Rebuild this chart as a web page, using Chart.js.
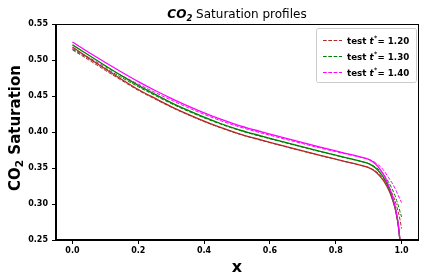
<!DOCTYPE html>
<html><head><meta charset="utf-8">
<script src="https://cdn.jsdelivr.net/npm/chart.js@4"></script>
<style>html,body{margin:0;padding:0;background:#fff}</style>
</head><body>
<canvas id="c" width="424" height="280"></canvas>
<script>
const xs = [0,0.05,0.1,0.15,0.2,0.25,0.3,0.35,0.4,0.45,0.5,0.55,0.6,0.65,0.7,0.75,0.8,0.85,0.88,0.9,0.92,0.94,0.95,0.96,0.97,0.98,0.985,0.99,0.995,1.0];
const solidRed = [0.518,0.5025,0.4875,0.473,0.459,0.447,0.4353,0.4248,0.4151,0.4063,0.3985,0.3918,0.3857,0.3797,0.3738,0.368,0.3623,0.3567,0.3533,0.3505,0.345,0.3355,0.329,0.3205,0.3095,0.2945,0.2838,0.270,0.250,null];
const solidGreen = [0.521,0.5065,0.492,0.478,0.4648,0.4525,0.4408,0.4303,0.4206,0.4118,0.404,0.3973,0.3912,0.3852,0.3793,0.3735,0.3678,0.3622,0.3588,0.356,0.3505,0.3405,0.333,0.3235,0.3115,0.2958,0.285,0.2712,0.250,null];
const solidMagenta = [0.525,0.5105,0.4965,0.483,0.470,0.458,0.4468,0.4363,0.4266,0.4178,0.410,0.4033,0.3972,0.3912,0.3853,0.3795,0.3738,0.3682,0.3648,0.362,0.356,0.345,0.337,0.3265,0.3135,0.297,0.286,0.272,0.250,null];
const dashedRed = [0.514,0.500,0.4855,0.4715,0.4578,0.446,0.4345,0.4241,0.4145,0.4058,0.398,0.3913,0.3852,0.3792,0.3733,0.3676,0.362,0.3566,0.3534,0.3508,0.346,0.338,0.332,0.325,0.316,0.305,0.297,0.289,0.279,0.266];
const dashedGreen = [0.515,0.502,0.4885,0.4755,0.4628,0.451,0.4395,0.4292,0.4197,0.411,0.4033,0.3966,0.3906,0.3847,0.3788,0.3731,0.3675,0.362,0.3588,0.3562,0.3515,0.344,0.338,0.331,0.322,0.312,0.305,0.298,0.290,0.282];
const dashedMagenta = [0.516,0.5035,0.4905,0.4782,0.4665,0.4552,0.4443,0.434,0.4245,0.4158,0.4081,0.4015,0.3955,0.3896,0.3838,0.3781,0.3727,0.3676,0.3646,0.3622,0.3575,0.350,0.344,0.337,0.330,0.322,0.317,0.312,0.307,0.302];
const testTimes = ['1.20','1.30','1.40'];
const xTicks = [0.0,0.2,0.4,0.6,0.8,1.0];
const yTicks = [0.25,0.30,0.35,0.40,0.45,0.50,0.55];

const RED = '#b02a26', GREEN = '#008000', MAG = '#ff00ff';
const pts = arr => xs.map((x,i)=>({x:x,y:arr[i]}));
const FF = '"DejaVu Sans", sans-serif';

function ds(arr, color, dashed, label){
  return {label:label, data:pts(arr), borderColor:color, backgroundColor:color,
    borderWidth: dashed?1:1.3, borderDash: dashed?[3.7,1.6]:[], pointRadius:0,
    cubicInterpolationMode:'monotone', fill:false, spanGaps:false};
}
const datasets = [
  ds(dashedRed, RED, true, 'test t* = '+testTimes[0]),
  ds(dashedGreen, GREEN, true, 'test t* = '+testTimes[1]),
  ds(dashedMagenta, MAG, true, 'test t* = '+testTimes[2]),
  ds(solidRed, RED, false, ''),
  ds(solidGreen, GREEN, false, ''),
  ds(solidMagenta, MAG, false, '')
];
datasets.forEach((d,i)=>{d.order = 10-i;});

const deco = {
  id:'deco',
  afterDraw(chart){
    const ctx = chart.ctx, a = chart.chartArea;
    ctx.save();
    ctx.strokeStyle='#000'; ctx.lineWidth=1;
    ctx.strokeRect(Math.round(a.left)-0.5, Math.round(a.top)+0.5, Math.round(a.right-a.left)+1, Math.round(a.bottom-a.top)-1);
    const cx = (a.left+a.right)/2;
    ctx.fillStyle='#000'; ctx.textBaseline='alphabetic'; ctx.textAlign='left';
    const f1='italic bold 12px '+FF, f2='italic bold 8.5px '+FF, f3='12px '+FF;
    ctx.font=f1; const w1=ctx.measureText('CO').width;
    ctx.font=f2; const w2=ctx.measureText('2').width;
    ctx.font=f3; const w3=ctx.measureText(' Saturation profiles').width;
    let x0 = cx-(w1+w2+w3)/2, by=18;
    ctx.font=f1; ctx.fillText('CO',x0,by);
    ctx.font=f2; ctx.fillText('2',x0+w1,by+2.5);
    ctx.font=f3; ctx.fillText(' Saturation profiles',x0+w1+w2,by);
    ctx.save();
    ctx.translate(19.5,128); ctx.rotate(-Math.PI/2);
    const g1='bold 15px '+FF, g2='bold 10.5px '+FF;
    ctx.font=g1; const v1=ctx.measureText('CO').width, v3=ctx.measureText(' Saturation').width;
    ctx.font=g2; const v2=ctx.measureText('2').width;
    let y0=-(v1+v2+v3)/2;
    ctx.font=g1; ctx.fillText('CO',y0,0);
    ctx.font=g2; ctx.fillText('2',y0+v1,3);
    ctx.font=g1; ctx.fillText(' Saturation',y0+v1+v2,0);
    ctx.restore();
    ctx.font='bold 16px '+FF; ctx.textAlign='center';
    ctx.fillText('x',cx,272);
    ctx.textAlign='left';
    const lx=316.5, ly=28.5, lw=100, lh=54, r=2;
    ctx.beginPath();
    ctx.moveTo(lx+r,ly); ctx.lineTo(lx+lw-r,ly); ctx.quadraticCurveTo(lx+lw,ly,lx+lw,ly+r);
    ctx.lineTo(lx+lw,ly+lh-r); ctx.quadraticCurveTo(lx+lw,ly+lh,lx+lw-r,ly+lh);
    ctx.lineTo(lx+r,ly+lh); ctx.quadraticCurveTo(lx,ly+lh,lx,ly+lh-r);
    ctx.lineTo(lx,ly+r); ctx.quadraticCurveTo(lx,ly,lx+r,ly); ctx.closePath();
    ctx.fillStyle='rgba(255,255,255,0.8)'; ctx.fill();
    ctx.strokeStyle='#cccccc'; ctx.lineWidth=1; ctx.stroke();
    const cols=[RED,GREEN,MAG];
    testTimes.forEach((t,i)=>{
      const yy = 40+i*16;
      ctx.strokeStyle=cols[i]; ctx.lineWidth=1; ctx.setLineDash([3.7,1.6]);
      ctx.beginPath(); ctx.moveTo(323,yy+0.5); ctx.lineTo(342,yy+0.5); ctx.stroke();
      ctx.setLineDash([]);
      ctx.fillStyle='#000';
      const base = yy+3.5;
      let tx=347;
      ctx.font='bold 8.7px '+FF; ctx.fillText('test ',tx,base); tx+=ctx.measureText('test ').width;
      ctx.font='italic bold 8.7px '+FF; ctx.fillText('t',tx,base); tx+=ctx.measureText('t').width+0.5;
      ctx.font='bold 6px '+FF; ctx.fillText('*',tx,base-3.5); tx+=ctx.measureText('*').width+0.3;
      ctx.font='bold 8.7px '+FF; ctx.fillText('= '+t,tx,base);
    });
    ctx.restore();
  }
};

const tickFont = {family:'"DejaVu Sans", sans-serif', size:8, weight:'bold'};
new Chart(document.getElementById('c'), {
  type:'line',
  data:{datasets:datasets},
  options:{
    responsive:false, animation:false, devicePixelRatio:1,
    layout:{padding:{top:24,right:6,left:0,bottom:0}},
    plugins:{legend:{display:false}, title:{display:false}, tooltip:{enabled:false}},
    scales:{
      x:{type:'linear', min:-0.05, max:1.05,
        afterBuildTicks:s=>{s.ticks=xTicks.map(v=>({value:v}));},
        afterFit:s=>{s.height=40;},
        grid:{display:true, drawOnChartArea:false, drawTicks:true, tickLength:4, color:'#000'},
        border:{display:true, color:'#000'},
        ticks:{color:'#000', font:tickFont, padding:2, maxRotation:0, callback:v=>Number(v).toFixed(1)}},
      y:{type:'linear', min:0.25, max:0.55,
        afterBuildTicks:s=>{s.ticks=yTicks.map(v=>({value:v}));},
        afterFit:s=>{s.width=56;},
        grid:{display:true, drawOnChartArea:false, drawTicks:true, tickLength:4, color:'#000'},
        border:{display:true, color:'#000'},
        ticks:{color:'#000', font:tickFont, padding:4, callback:v=>Number(v).toFixed(2)}}
    }
  },
  plugins:[deco]
});
</script>
</body></html>
